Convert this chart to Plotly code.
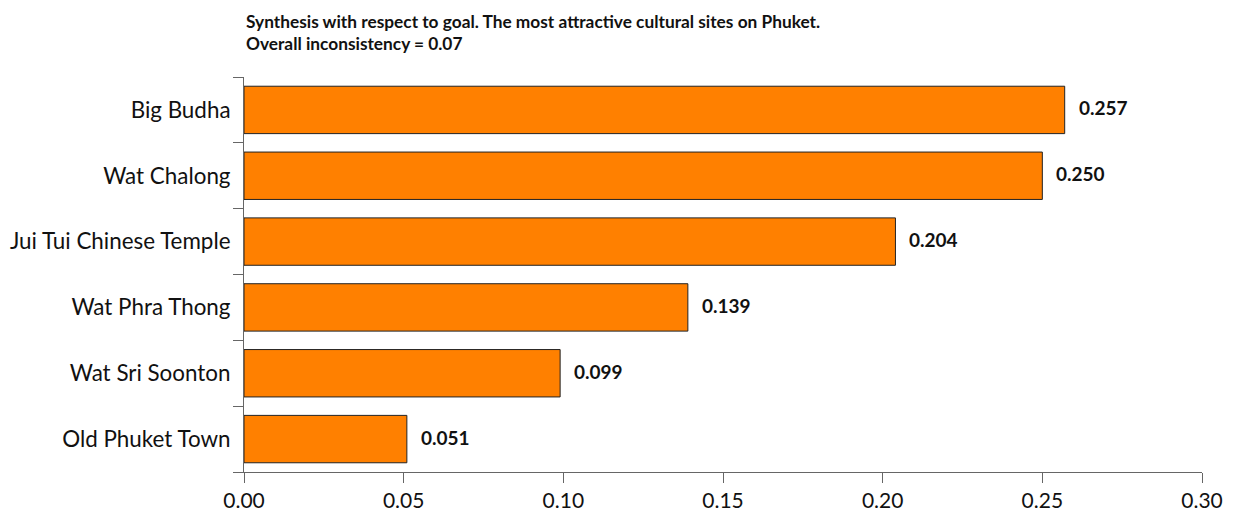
import plotly.graph_objects as go

categories = ["Big Budha", "Wat Chalong", "Jui Tui Chinese Temple", "Wat Phra Thong", "Wat Sri Soonton", "Old Phuket Town"]
values = [0.257, 0.250, 0.204, 0.139, 0.099, 0.051]
value_labels = ["0.257", "0.250", "0.204", "0.139", "0.099", "0.051"]
x_ticks = [0.00, 0.05, 0.10, 0.15, 0.20, 0.25, 0.30]
x_tick_labels = ["0.00", "0.05", "0.10", "0.15", "0.20", "0.25", "0.30"]

FONT = "Lato"

fig = go.Figure()
fig.add_trace(go.Bar(
    y=categories, x=values, orientation="h",
    marker=dict(color="#FF8000", line=dict(color="#222222", width=1)),
    width=0.72,
))

for c, v, t in zip(categories, values, value_labels):
    fig.add_annotation(x=v, y=c, text="<b>%s</b>" % t, showarrow=False,
                       xanchor="left", xshift=12, yshift=2,
                       font=dict(family=FONT, size=19, color="#111111"))

fig.add_annotation(xref="paper", yref="paper", x=0, y=1, yshift=21,
                   xanchor="left", yanchor="bottom", align="left",
                   text="<b>Synthesis with respect to goal. The most attractive cultural sites on Phuket.<br>Overall inconsistency = 0.07</b>",
                   showarrow=False, font=dict(family=FONT, size=17.3, color="#111111"))

fig.update_layout(
    width=1234, height=513,
    margin=dict(l=244, r=32, t=77, b=41, autoexpand=False),
    plot_bgcolor="white", paper_bgcolor="white",
    showlegend=False,
    font=dict(family=FONT, color="#111111"),
    xaxis=dict(range=[0, 0.30], tickvals=x_ticks, ticktext=x_tick_labels, automargin=False,
               showgrid=False, zeroline=False, showline=True, linecolor="#666666", linewidth=1,
               ticks="outside", ticklen=10, tickcolor="#666666",
               tickfont=dict(family=FONT, size=21, color="#111111")),
    yaxis=dict(categoryorder="array", categoryarray=categories[::-1], automargin=False,
               showgrid=False, zeroline=False, showline=True, linecolor="#666666", linewidth=1,
               ticks="outside", ticklen=10, tickcolor="#666666", tickson="boundaries",
               ticklabelstandoff=8,
               tickfont=dict(family=FONT, size=22.4, color="#111111")),
)

fig.write_html("out.html")
